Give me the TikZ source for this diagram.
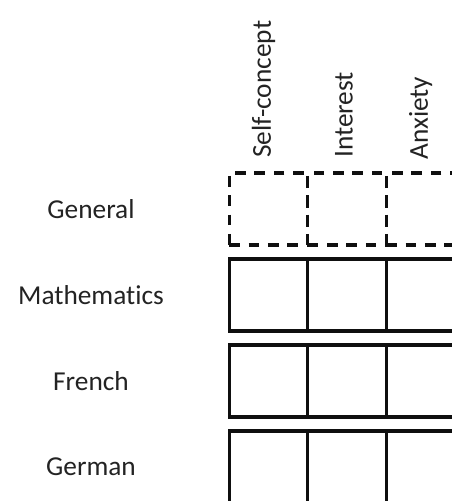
\documentclass[tikz,border=0pt]{standalone}
\usepackage{fontspec}
\setmainfont{Carlito}[Ligatures=NoCommon]
\usetikzlibrary{positioning,calc}
\definecolor{ink}{RGB}{15,15,15}
\definecolor{txt}{RGB}{35,35,35}
\begin{document}
\begin{tikzpicture}[
  x=0.75pt,y=-0.75pt,
  font=\fontsize{20.5}{24}\selectfont,
  cell/.style={draw=ink,line width=2.3pt,minimum width=58.9pt,minimum height=54pt,inner sep=0pt,outer sep=0pt},
  dcell/.style={cell,dash pattern=on 8pt off 6.5pt},
  rowlab/.style={text=txt,inner sep=0pt},
  colhead/.style={text=txt,rotate=90,anchor=west,inner sep=0pt},
]
\useasboundingbox (0,0) rectangle (452,501);
\clip (0,0) rectangle (452,501);
% general row (dashed)
\node[dcell] (gsc) at (268.5,209) {};
\node[dcell,right=0pt of gsc] (gint) {};
\node[dcell,right=0pt of gint] (ganx) {};
% domain rows
\node[cell,below=10.5pt of gsc] (msc) {};
\node[cell,right=0pt of msc] (mint) {};
\node[cell,right=0pt of mint] (manx) {};
\node[cell,below=10.5pt of msc] (fsc) {};
\node[cell,right=0pt of fsc] (fint) {};
\node[cell,right=0pt of fint] (fanx) {};
\node[cell,below=10.5pt of fsc] (dsc) {};
\node[cell,right=0pt of dsc] (dint) {};
\node[cell,right=0pt of dint] (danx) {};
% row labels
\coordinate (labx) at (91,0);
\node[rowlab] at (labx |- gsc) {General};
\node[rowlab] at (labx |- msc) {Mathematics};
\node[rowlab] at (labx |- fsc) {French};
\node[rowlab] at (labx |- dsc) {German};
% column headers
\node[colhead] at ($(gsc.north)+(-5,-15)$) {Self-concept};
\node[colhead] at ($(gint.north)+(-3,-15)$) {Interest};
\node[colhead] at ($(ganx.north)+(-5,-13)$) {Anxiety};
\end{tikzpicture}
\end{document}
